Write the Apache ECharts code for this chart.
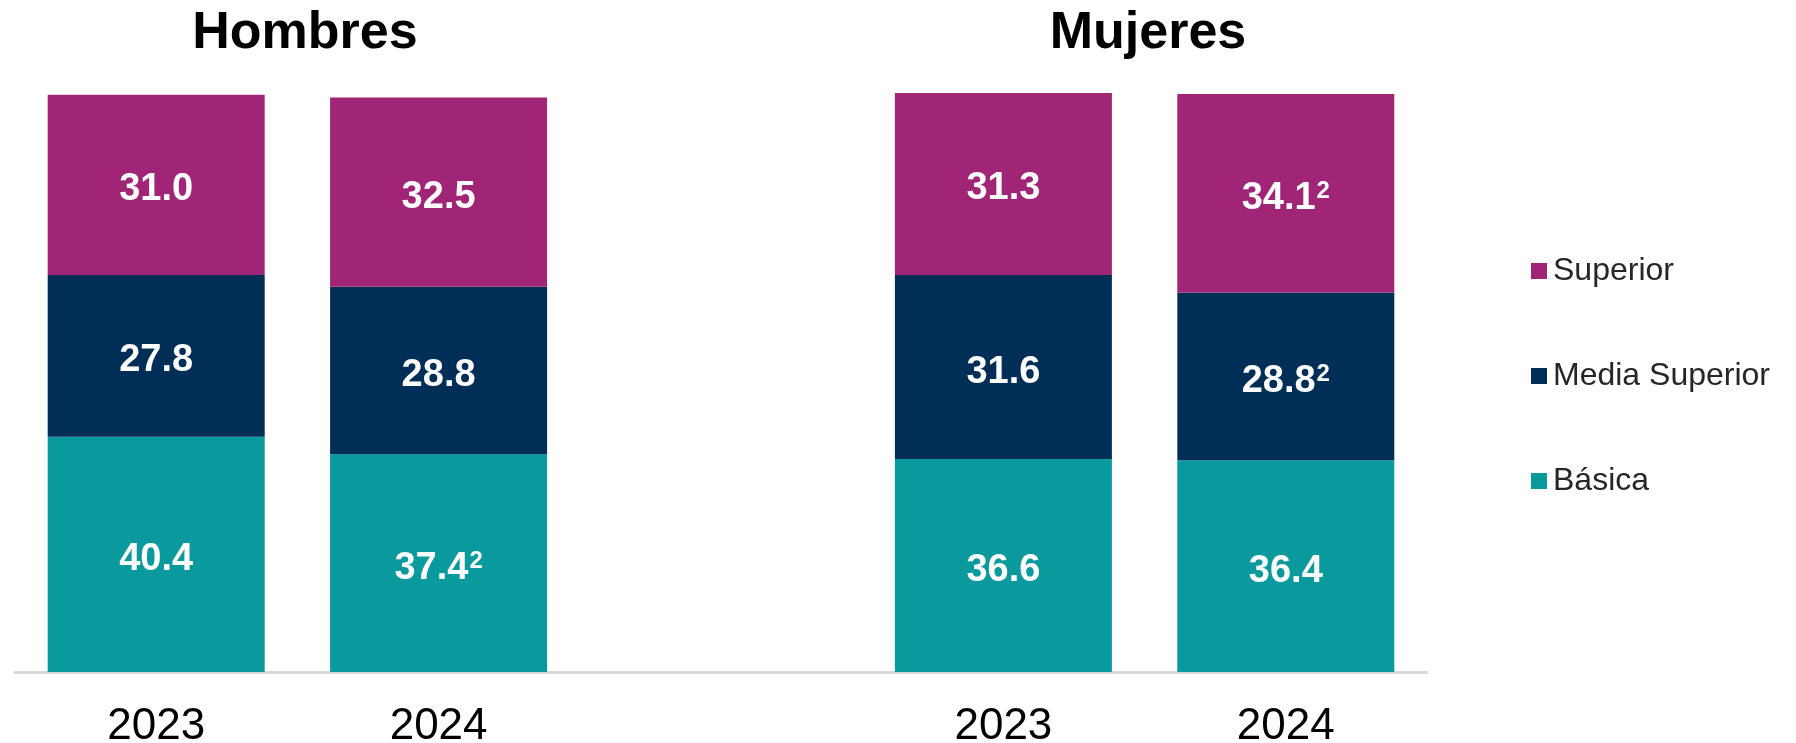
<!DOCTYPE html>
<html>
<head>
<meta charset="utf-8">
<script src="https://cdn.jsdelivr.net/npm/echarts@6/dist/echarts.min.js"></script>
<style>
  html, body { margin: 0; padding: 0; background: #ffffff; }
  #chart { width: 1796px; height: 743px; }
</style>
</head>
<body>
<div id="chart"></div>
<script>
// Years shown under each group of bars
const years = ['2023', '2024'];

// Hombres: share by education level (%)
const hombresBasica   = [40.4, 37.4];
const hombresMedia    = [27.8, 28.8];
const hombresSuperior = [31.0, 32.5];

// Mujeres: share by education level (%)
const mujeresBasica   = [36.6, 36.4];
const mujeresMedia    = [31.6, 28.8];
const mujeresSuperior = [31.3, 34.1];

// Footnote markers (superscript) appended to some labels
const hombresBasicaNote   = ['', '2'];
const hombresMediaNote    = ['', ''];
const hombresSuperiorNote = ['', ''];
const mujeresBasicaNote   = ['', ''];
const mujeresMediaNote    = ['', '2'];
const mujeresSuperiorNote = ['', '2'];

const colors = {
  'Básica': '#0A999C',
  'Media Superior': '#002E57',
  'Superior': '#A02576'
};

const FONT = '"Liberation Sans", Arial, sans-serif';

// One category axis: Hombres years, an empty spacer slot, Mujeres years
const categories = [...years, '', ...years];
const join = (h, m) => [...h, null, ...m];

function barSeries(name, h, m, hNote, mNote) {
  const notes = join(hNote, mNote);
  return {
    name: name,
    type: 'bar',
    stack: 'total',
    barWidth: 217,
    data: join(h, m),
    itemStyle: { color: colors[name] },
    label: {
      show: true,
      position: 'inside',
      offset: [0, 5],
      color: '#ffffff',
      fontFamily: FONT,
      fontWeight: 'bold',
      fontSize: 38,
      formatter: p => {
        const n = notes[p.dataIndex];
        return '{v|' + p.value.toFixed(1) + '}' + (n ? '{s|' + n + '}' : '');
      },
      rich: {
        v: { fontFamily: FONT, fontWeight: 'bold', fontSize: 38, color: '#ffffff' },
        s: { fontFamily: FONT, fontWeight: 'bold', fontSize: 24, color: '#ffffff',
             verticalAlign: 'top', padding: [0, 0, 0, 1] }
      }
    },
    emphasis: { disabled: true },
    animation: false
  };
}

const chart = echarts.init(document.getElementById('chart'), null, { renderer: 'canvas' });

chart.setOption({
  backgroundColor: '#ffffff',
  animation: false,
  title: [
    {
      text: 'Hombres', left: 300, top: 3, textAlign: 'center',
      textStyle: { fontFamily: FONT, fontSize: 52, fontWeight: 'bold', color: '#000000' }
    },
    {
      text: 'Mujeres', left: 1143, top: 3, textAlign: 'center',
      textStyle: { fontFamily: FONT, fontSize: 52, fontWeight: 'bold', color: '#000000' }
    }
  ],
  legend: {
    orient: 'vertical',
    left: 1526,
    top: 250,
    itemWidth: 16,
    itemHeight: 16,
    itemGap: 73,
    icon: 'rect',
    data: ['Superior', 'Media Superior', 'Básica'],
    textStyle: {
      fontFamily: FONT,
      fontSize: 32,
      color: '#262626',
      padding: [0, 0, 0, 1]
    }
  },
  grid: { left: 15, width: 1412, top: 90, bottom: 71, outerBoundsMode: 'none', containLabel: false },
  xAxis: {
    type: 'category',
    data: categories,
    axisLine: { show: true, lineStyle: { color: '#d9d9d9', width: 3 } },
    axisTick: { show: false },
    axisLabel: {
      margin: 33,
      color: '#000000',
      fontFamily: FONT,
      fontSize: 44
    }
  },
  yAxis: { type: 'value', min: 0, max: 100, show: false },
  series: [
    barSeries('Básica', hombresBasica, mujeresBasica, hombresBasicaNote, mujeresBasicaNote),
    barSeries('Media Superior', hombresMedia, mujeresMedia, hombresMediaNote, mujeresMediaNote),
    barSeries('Superior', hombresSuperior, mujeresSuperior, hombresSuperiorNote, mujeresSuperiorNote)
  ]
});
</script>
</body>
</html>
